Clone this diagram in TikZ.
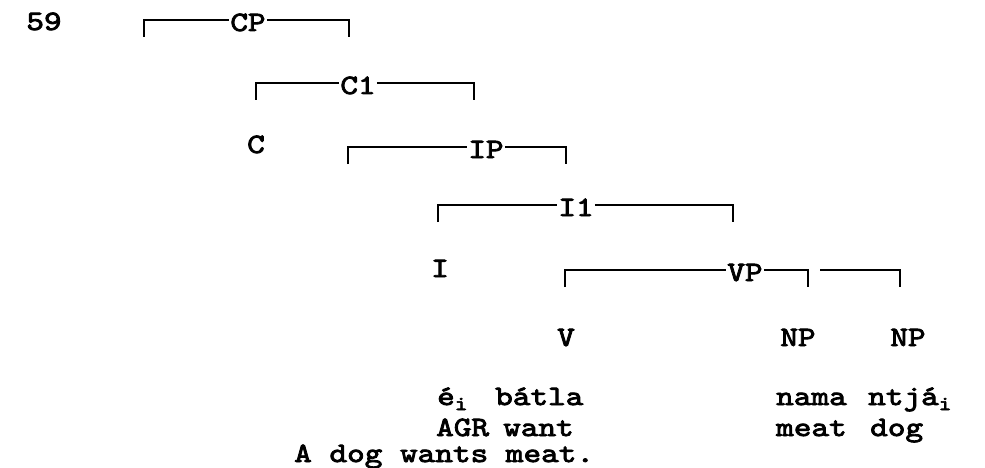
\documentclass[tikz,border=0pt]{standalone}
\usepackage{fontspec}
\newfontfamily\tw[FakeBold=3,FakeStretch=1.2]{lmmono10-regular.otf}
\newcommand\Sub[1]{\raisebox{-5pt}{\fontsize{20}{20}\selectfont #1}}
\newcommand\Brk[6]{%
  \node[cat] (#1) at (#6,#5+11) {#2};
  \coordinate (#1L) at (#3,#5+17);
  \coordinate (#1R) at (#4,#5+17);
  \coordinate (#1T) at (#3,#5);
  \draw[brk] (#1L) |- ([xshift=-1]#1.west |- #1T);
  \draw[brk] ([xshift=1]#1.east |- #1T) -| (#1R);
}
\begin{document}
\begin{tikzpicture}[x=1pt,y=-1pt,
  cat/.style={font=\tw\fontsize{28}{28}\selectfont, inner sep=0pt, anchor=base},
  word/.style={font=\tw\fontsize{28}{28}\selectfont, inner sep=0pt, anchor=base west},
  brk/.style={line width=1.8pt}]
\useasboundingbox (0,0) rectangle (985,468);
\node[cat] (n59) at (44,30) {59};
\Brk{cp}{CP}{144}{349}{20}{248}
\Brk{cone}{C1}{256}{474}{83}{358}
\node[cat] (c) at (256,153) {C};
\Brk{ip}{IP}{348}{566}{147}{486}
\Brk{ione}{I1}{438}{733}{205}{576}
\node[cat] (i) at (440,277) {I};
\Brk{vp}{VP}{565}{808}{270}{745}
\coordinate (npT) at (820,270);
\coordinate (npR) at (900,287);
\draw[brk] (npT) -| (npR);
\node[cat] (v) at (566,346) {V};
\node[cat] (np1) at (798,346) {NP};
\node[cat] (np2) at (908,346) {NP};
\node[word] (w1) at (437,405) {é\Sub{i}};
\node[word] (w2) at (495,405) {bátla};
\node[word] (w3) at (776,405) {nama};
\node[word] (w4) at (868,405) {ntjá\Sub{i}};
\node[word] (g1) at (436,436) {AGR};
\node[word] (g2) at (503,436) {want};
\node[word] (g3) at (776,436) {meat};
\node[word] (g4) at (870,436) {dog};
\node[word] (tr) at (294,462) {A dog wants meat.};
\end{tikzpicture}
\end{document}
